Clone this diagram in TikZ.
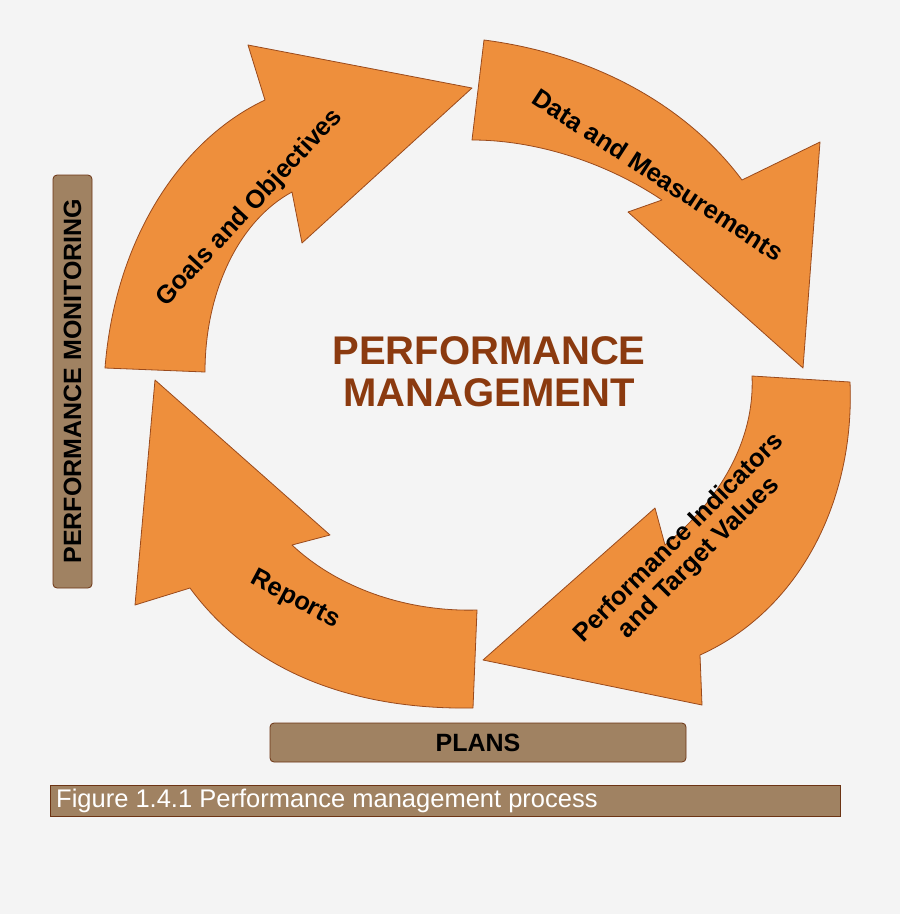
\documentclass[tikz,border=0pt]{standalone}
\usepackage{fontspec}
\setmainfont{Liberation Sans}
\begin{document}
\definecolor{bg}{HTML}{F4F4F4}
\definecolor{org}{HTML}{EE8F3C}
\definecolor{edge}{HTML}{9A4A1C}
\definecolor{boxc}{HTML}{A08262}
\definecolor{title}{HTML}{8B3A0F}
\begin{tikzpicture}[x=1pt,y=-1pt,
  arr/.style={fill=org,draw=edge,line width=0.8pt,line join=round},
  lbl/.style={font=\bfseries\fontsize{25.5}{28}\selectfont,align=center,inner sep=0},
  box/.style={fill=boxc,draw=edge!70!black,line width=0.8pt,rounded corners=4pt}]
\fill[bg] (0,0) rectangle (900,914);
\useasboundingbox (0,0) rectangle (900,914);
% arrow 1
\path[arr] (105,368) .. controls (115,240) and (180,140) .. (265,100) -- (248,45) -- (472,88) -- (302,243) -- (292,192)
  .. controls (240,220) and (205,290) .. (205,372) -- cycle;
% arrow 2
\path[arr] (484,40) .. controls (600,55) and (690,110) .. (742,180) -- (820,142) -- (803,368) -- (628,212) -- (662,200)
  .. controls (610,165) and (540,140) .. (472,140) -- cycle;
% arrow 3
\path[arr] (850,382) .. controls (855,500) and (800,610) .. (700,655) -- (702,705) -- (483,660) -- (655,508) -- (665,545)
  .. controls (720,500) and (755,440) .. (752,376) -- cycle;
% arrow 4
\path[arr] (473,708) .. controls (350,710) and (250,670) .. (190,588) -- (135,605) -- (155,380) -- (330,535) -- (292,545)
  .. controls (340,590) and (410,612) .. (477,610) -- cycle;
\node[lbl,rotate=47] (g) at (250,208) {Goals and Objectives};
\node[lbl,rotate=-33] (d) at (658,175) {Data and Measurements};
\node[lbl,rotate=45] (p) at (689,548) {Performance Indicators\\and Target Values};
\node[lbl,rotate=-28] (r) at (295,600) {Reports};
\node[font=\bfseries\fontsize{40}{42}\selectfont,text=title,align=center] (c) at (489,372) {PERFORMANCE\\MANAGEMENT};
\path[box] (53,175) rectangle (92,588);
\node[lbl,rotate=90,font=\bfseries\fontsize{25}{28}\selectfont] (m) at (72.5,381) {PERFORMANCE MONITORING};
\path[box] (270,723) rectangle (686,762);
\node[lbl,font=\bfseries\fontsize{25}{28}\selectfont] (pl) at (478,742.5) {PLANS};
\path[fill=boxc,draw=edge!70!black,line width=0.8pt] (50,785) rectangle (840,816);
\node[anchor=west,text=white,font=\fontsize{25.5}{28}\selectfont,inner sep=0] (f) at (56,800.5) {Figure 1.4.1 Performance management process};
\end{tikzpicture}
\end{document}
